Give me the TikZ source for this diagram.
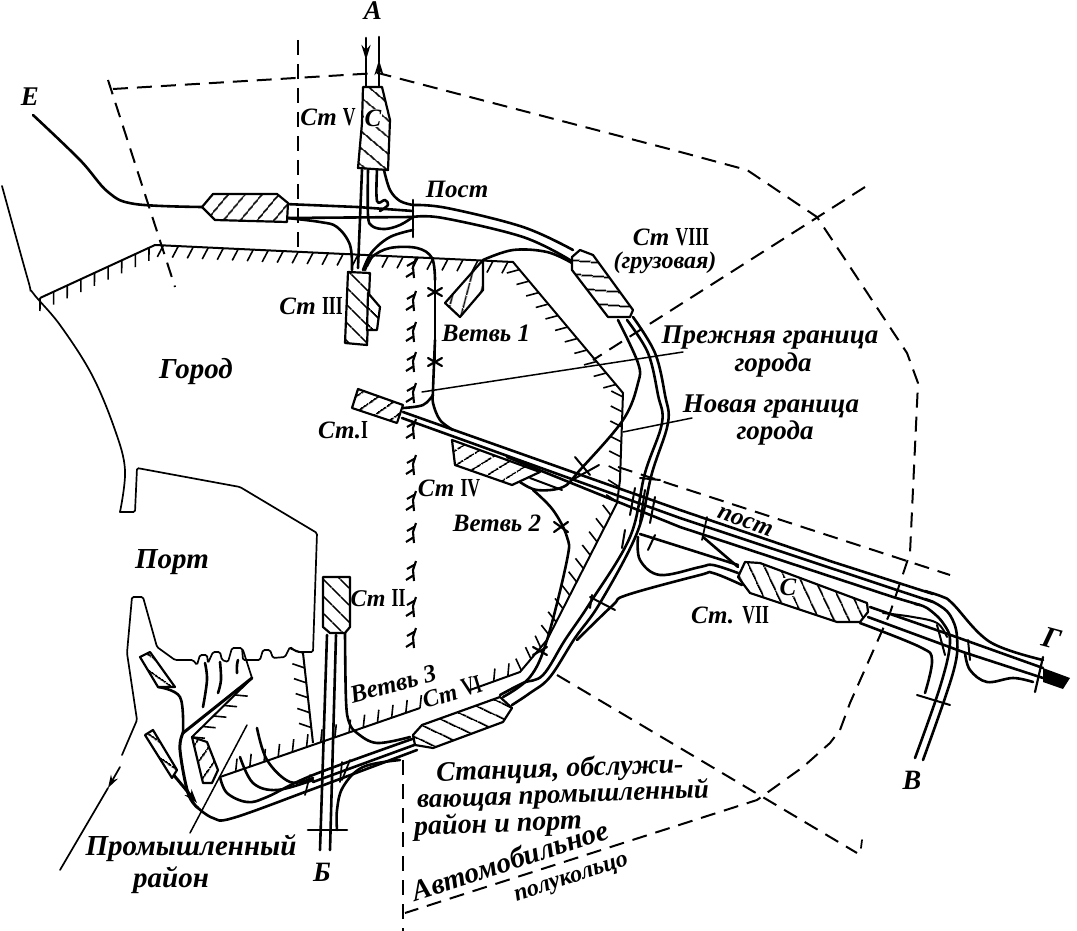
\documentclass[tikz,border=0pt]{standalone}
\usepackage{fontspec}
\usepackage{graphicx}
\setmainfont{Liberation Serif}
\usetikzlibrary{decorations.pathreplacing,patterns.meta,arrows.meta}
\newcommand\cv[2][]{\draw[#1] plot[smooth,tension=.6] coordinates {#2};}
\newcommand\rn[1]{\scalebox{.68}[1]{\upshape\bfseries\fontsize{26}{26}\selectfont #1}}
\tikzset{
 trk/.style={line width=2.6pt,line join=round,line cap=round},
 thn/.style={line width=1.7pt,line cap=round},
 dsh/.style={line width=2pt,dash pattern=on 15pt off 9pt},
 stn/.style={draw,line width=2.2pt,line join=round,preaction={fill=white},
   pattern={Lines[angle=#1,distance=13pt,line width=1.8pt]},pattern color=black},
 hatchA/.style={line width=2pt,postaction={draw,line width=1.6pt,decorate,
   decoration={border,segment length=15pt,amplitude=13pt,angle=-115}}},
 hatchB/.style={line width=2pt,postaction={draw,line width=1.6pt,decorate,
   decoration={border,segment length=15pt,amplitude=13pt,angle=-50}}},
 lab/.style={font=\bfseries\itshape\fontsize{#1}{#1}\selectfont,inner sep=0pt},
 lab/.default=27,
}
\begin{document}
\begin{tikzpicture}[x=1pt,y=-1pt]
\useasboundingbox (0,0) rectangle (1077,931);
% dashed boundaries
\draw[dsh] (108,80) -- (175,287);
\draw[dsh] (113,89) -- (378,73) -- (673,150) -- (747,170) -- (817,217) -- (907,353) -- (918,383) -- (910,553) -- (890,613) -- (850,703) -- (840,730) -- (830,743) -- (803,767) -- (757,800) -- (405,913);
\draw[dsh] (298,40) -- (298,252);
\draw[dsh] (865,187) -- (593,360);
\draw[dsh] (618,467) -- (950,575);
\draw[dsh] (557,675) -- (857,853);
\draw[dsh] (403,760) -- (403,931);
\draw[thn] (862,840) -- (861,848);
% city boundary
\cv[thn]{(2,186) (28,280) (33,293) (60,325) (92,375) (115,430) (125,470) (120,512)}
\draw[thn,rounded corners=1.5pt] (120,512) -- (135,512) -- (137,468) -- (240,487) -- (317,533) -- (313,652) -- (297,652) -- (290,647) -- (285,657) -- (273,658) -- (270,650) -- (263,650) -- (260,660) -- (243,660) -- (242,648) -- (232,648) -- (228,662) -- (222,660) -- (220,652) -- (213,652) -- (208,663) -- (207,655) -- (200,655) -- (197,665) -- (193,660) -- (175,660) -- (157,647) -- (143,597) -- (132,597) -- (127,653) -- (137,720) -- (122,755);
\draw[thn,-{Stealth[length=13pt,width=8pt]}] (120,767) -- (108,788);
\draw[thn] (108,788) -- (60,870);
% hatched lines
\draw[hatchA] (40,298) -- (155,245) -- (513,262) -- (623,393) -- (620,480) -- (617,503) -- (547,640) -- (520,672) -- (470,690);
\draw[hatchA] (420,708) -- (220,777);
\draw[hatchA] (303,653) -- (313,743);
\draw[hatchB] (192,737) -- (252,678);
\draw[thn] (252,678) -- (243,650);
% barbed column
\foreach \yy in {268,301,332,362,393,429,465,501,533,571,607,638}{
  \draw[line width=2.1pt] (416,\yy-10) -- (413,\yy-1) -- (414,\yy+10) (414,\yy-6) -- (407,\yy-2) (414,\yy+4) -- (406,\yy+9);
}
% E and A
\cv[trk]{(33,115) (80,160) (108,192) (135,204) (202,207)}
\draw[trk,-{Stealth[length=15pt,width=9pt]}] (366,38) -- (366,60);
\draw[trk] (366,58) -- (366,87);
\draw[trk,-{Stealth[length=15pt,width=9pt]}] (379,87) -- (379,60);
\draw[trk] (379,62) -- (379,37);
% below V
\draw[trk] (362,170) -- (358,268);
\cv[trk]{(368,170) (368,215) (372,226) (385,229) (400,225) (413,217)}
\cv[trk]{(377,170) (377,201) (385,200) (388,205) (380,211)}
\cv[trk]{(384,170) (390,190) (400,201) (413,205)}
% E station to Post
\draw[trk] (285,204) -- (357,207) -- (413,211);
\cv[trk]{(287,218) (320,222) (337,227) (350,245) (352,270)}
\draw[trk] (287,218) -- (413,217);
\draw[trk] (413,200) -- (413,237);
\cv[trk]{(413,230) (390,237) (372,252) (363,270)}
\cv[trk]{(413,205) (447,208) (523,227) (573,250)}
\cv[trk]{(413,217) (443,218) (523,237) (570,260)}
% branch 1
\cv[trk]{(365,270) (372,257) (390,248) (417,248) (432,258) (435,280)}
\draw[trk] (435,280) -- (435,360);
\cv[trk]{(435,340) (433,390) (433,403) (440,420) (453,430)}
\cv[trk]{(433,395) (423,405) (403,408)}
\cv[trk]{(483,260) (513,250) (547,252) (572,263)}
\draw[thn,line width=2.2pt] (428,288) -- (442,296) (428,296) -- (442,288) (428,358) -- (442,366) (428,366) -- (442,358);
% main tracks
\draw[trk] (403,412) -- (680,510) -- (833,562) -- (933,594);
\cv[trk]{(925,591) (943,597) (953,604) (990,642) (1043,660)}
\draw[trk] (402,418) -- (680,518) -- (933,602);
\cv[trk]{(925,599) (937,604) (950,615) (957,637) (953,673) (923,760)}
\draw[trk] (507,457) -- (680,527) -- (893,597) -- (920,605);
\cv[trk]{(915,604) (927,608) (943,623) (950,643) (940,687) (915,758)}
% east
\draw[trk] (870,607) -- (945,633) -- (1043,668);
\draw[trk] (868,617) -- (963,652) -- (1043,678);
\cv[trk]{(860,623) (920,647) (932,660) (925,693)}
\cv[thn,line width=2pt]{(883,613) (913,617) (937,623) (947,637)}
\cv[trk]{(965,653) (970,670) (987,682) (1013,678) (1033,682)}
\fill (1043,668) -- (1070,678) -- (1063,689) -- (1043,682) -- cycle;
\draw[thn,line width=2.2pt] (1043,657) -- (1035,692);
% west of VII
\draw[thn] (707,517) -- (702,540);
\draw[trk] (703,537) -- (738,567);
\draw[trk] (640,534) -- (738,565);
\cv[trk]{(638,537) (640,560) (660,575) (700,567) (713,565) (738,573)}
\cv[trk]{(742,585) (713,573) (700,575) (627,595) (613,605) (577,640)}
% curved pair from VIII to VI
\cv[trk]{(633,317) (655,353) (665,395) (668,423) (652,473) (637,533) (600,603) (575,638) (550,677) (530,693) (512,705)}
\cv[trk]{(627,320) (648,353) (658,395) (662,423) (645,473) (630,537) (590,603) (565,640) (543,675) (523,683) (500,695)}
\cv[trk]{(618,320) (638,363) (638,383) (623,420) (580,470) (563,487) (537,490) (520,482)}
\cv[trk]{(533,490) (553,510) (567,537) (567,560) (547,640) (530,677) (503,697)}
\draw[thn,line width=2.2pt] (554,522) -- (568,532) (554,532) -- (568,522) (533,647) -- (547,655) (533,655) -- (547,647);
% crossing ticks
\draw[thn,line width=2pt] (635,488) -- (630,515) (645,490) -- (640,522) (655,497) -- (650,523) (625,530)--(622,548) (655,535)--(648,550) (640,478)--(660,480) (590,597)--(615,610) (592,595)--(590,608) (575,457)--(590,475) (937,625)--(945,655) (968,640)--(970,660) (599,465)--(572,480) (530,478)--(562,490) (917,695)--(950,705);
% VI west
\cv[trk]{(417,750) (313,789) (233,818) (213,818) (198,808)}
\cv[trk]{(415,738) (313,775) (267,797) (247,802) (227,793) (220,777)}
\draw[trk] (417,744) -- (313,782);
\cv[trk]{(313,780) (277,790) (253,783) (240,757)}
\cv[trk]{(313,778) (290,782) (267,760) (257,728)}
\cv[trk]{(400,760) (363,767) (343,787) (337,810) (337,830)}
\draw[trk] (327,635) -- (320,850);
\draw[trk] (336,635) -- (330,850);
\draw[trk] (308,830) -- (347,830);
\cv[trk]{(345,633) (346,700) (349,722) (357,733) (377,743) (410,737)}
\draw[thn] (310,775)--(305,795) (342,762)--(340,782) (350,760)--(342,780);
% industrial area
\cv[trk]{(158,687) (180,697) (183,733)}
\cv[trk,line width=3pt]{(183,733) (180,750) (188,793) (198,808)}
\draw[trk,line width=3pt] (183,733) -- (252,678);
\draw[trk,line width=3pt,-{Stealth[length=14pt,width=9pt]}] (172,773) -- (197,803);
\cv[trk]{(203,707) (207,680) (205,663)}
\cv[trk]{(218,693) (221,680) (220,662)}
\cv[trk]{(237,673) (237,665) (238,660)}
% leaders
\draw[thn,line width=1.5pt] (190,833) -- (247,725);
\draw[thn,line width=1.5pt] (422,392) -- (683,352);
\draw[thn,line width=1.5pt] (623,432) -- (692,418);
% stations
\draw[stn=-40] (363,87) -- (382,87) -- (390,120) -- (388,170) -- (358,168) -- (362,123) -- cycle;
\draw[stn=-45] (348,272) -- (370,273) -- (367,345) -- (345,343) -- cycle;
\draw[stn=-45] (368,293) -- (380,307) -- (377,330) -- (367,330) -- cycle;
\draw[stn=75] (483,260) -- (483,290) -- (460,317) -- (445,303) -- cycle;
\draw[stn=50] (213,194) -- (277,194) -- (288,203) -- (287,222) -- (215,220) -- (202,207) -- cycle;
\draw[stn=35] (358,389) -- (403,405) -- (397,423) -- (352,408) -- cycle;
\draw[stn=32] (452,440) -- (455,465) -- (512,485) -- (540,472) -- cycle;
\draw[stn=-5] (572,257) -- (580,250) -- (593,255) -- (633,310) -- (630,317) -- (608,317) -- (572,270) -- cycle;
\draw[stn=-25] (413,735) -- (422,725) -- (500,697) -- (512,708) -- (503,722) -- (433,748) -- (415,745) -- cycle;
\draw[stn=-65] (738,577) -- (745,562) -- (760,563) -- (867,603) -- (868,612) -- (860,622) -- (837,622) -- (750,593) -- cycle;
\draw[stn=-45] (323,577) -- (350,577) -- (350,627) -- (345,633) -- (330,633) -- (323,627) -- cycle;
\draw[stn=-35] (140,657) -- (150,652) -- (175,687) -- (158,687) -- cycle;
\draw[stn=-35] (145,735) -- (153,730) -- (177,770) -- (172,778) -- cycle;
\draw[stn=55] (192,737) -- (207,742) -- (218,770) -- (212,783) -- (203,783) -- cycle;
% labels
\node[lab=27] (la) at (373,11) {А};
\node[lab=27] (le) at (30,97) {Е};
\node[lab=25] (lv) at (328,117) {Ст \rn{V}};
\node[lab=25,fill=white,inner sep=1pt] (lc1) at (373,118) {С};
\node[lab=25] (lpost) at (457,189) {Пост};
\node[lab=25] (l8) at (671,237) {Ст \rn{VIII}};
\node[lab=24] (l8b) at (665,263) {(грузовая)};
\node[lab=25] (l3) at (311,306) {Ст \rn{III}};
\node[lab=25] (lb1) at (486,333) {Ветвь 1};
\node[lab=29] (lgor) at (196,372) {Город};
\node[lab=29] (lport) at (172,562) {Порт};
\node[lab=27] (lpr) at (770,338) {Прежняя граница};
\node[lab=27] (lpr2) at (773,365) {города};
\node[lab=27] (ln) at (771,407) {Новая граница};
\node[lab=27] (ln2) at (775,433) {города};
\node[lab=25] (l1) at (343,430) {Ст.\rn{I}};
\node[lab=25] (l4) at (449,488) {Ст \rn{IV}};
\node[lab=25] (lb2) at (497,523) {Ветвь 2};
\node[lab=25,rotate=-20] (lpost2) at (745,522) {пост};
\node[lab=25,fill=white,inner sep=1pt] (lc2) at (788,587) {С};
\node[lab=25] (l7) at (730,615) {Ст. \rn{VII}};
\node[lab=24] (l2) at (378,598) {Ст \rn{II}};
\node[lab=25,rotate=15] (lb3) at (393,684) {Ветвь 3};
\node[lab=24,rotate=17] (l6) at (452,692) {Ст \rn{VI}};
\node[lab=28] (lvv) at (912,780) {В};
\node[lab=30,rotate=-15] (lg) at (1052,638) {Г};
\node[lab=28] (lbb) at (322,872) {Б};
\node[lab=29] (lprom) at (191,848) {Промышленный};
\node[lab=29] (lray) at (171,880) {район};
\node[lab=28,rotate=2] (lst1) at (560,770) {Станция, обслужи-};
\node[lab=27,rotate=2] (lst2) at (563,796) {вающая промышленный};
\node[lab=28,rotate=2] (lst3) at (498,825) {район и порт};
\node[lab=29,rotate=18] (lav) at (510,860) {Автомобильное};
\node[lab=24,rotate=18] (lpk) at (572,880) {полукольцо};
\end{tikzpicture}
\end{document}
